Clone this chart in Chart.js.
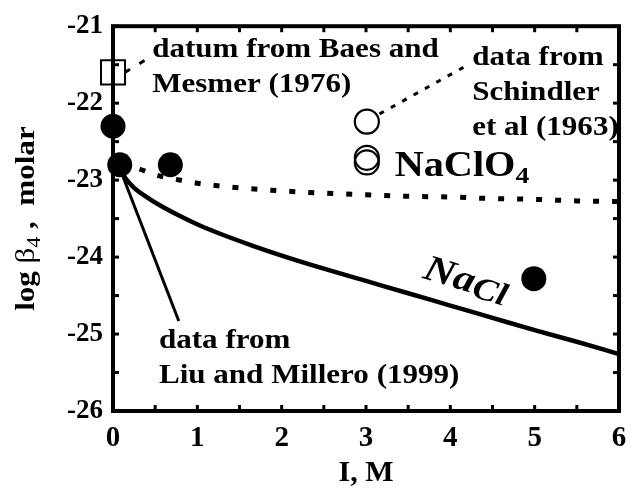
<!DOCTYPE html>
<html>
<head>
<meta charset="utf-8">
<script src="https://cdn.jsdelivr.net/npm/chart.js@4.4.0/dist/chart.umd.min.js"></script>
<style>
html, body { margin: 0; padding: 0; background: #fff; }
#wrap { width: 638px; height: 488px; }
</style>
</head>
<body>
<div id="wrap"><canvas id="chart"></canvas></div>
<script>
// values (I in M, log beta4 molar)
const liuI = [0, 0.08, 0.68, 4.99]
const liuLog = [-22.30, -22.80, -22.80, -24.28]

const schindlerI = [3.01, 3.01, 3.01]
const schindlerLog = [-22.24, -22.71, -22.77]

const baesI = [0]
const baesLog = [-21.60]

// fitted curves
const naclI = [0.1, 0.15, 0.25, 0.4, 0.56, 0.8, 1.03, 1.3, 1.65, 2.0, 2.5, 3, 3.5, 4, 4.5, 5, 5.5, 6]
const naclLog = [-22.88, -22.98, -23.10, -23.22, -23.33, -23.47, -23.59, -23.71, -23.85, -23.98, -24.15, -24.31, -24.47, -24.63, -24.79, -24.95, -25.10, -25.26]

const naclo4I = [0.1, 0.3, 0.5, 0.75, 1, 1.5, 2, 2.5, 3, 3.5, 4, 4.5, 5, 5.5, 6]
const naclo4Log = [-22.78, -22.85, -22.93, -22.99, -23.04, -23.10, -23.14, -23.17, -23.19, -23.21, -23.22, -23.24, -23.25, -23.27, -23.28]

// pointer lines from the labels to the data
const liuPointerI = [0.12, 0.78]
const liuPointerLog = [-22.96, -24.83]
const schPointerI = [3.16, 4.18]
const schPointerLog = [-22.14, -21.52]
const baesPointerI = [0.14, 0.43]
const baesPointerLog = [-21.60, -21.41]

const xTicks = [0, 1, 2, 3, 4, 5, 6]
const yTicks = [-26, -25, -24, -23, -22, -21]

const serif = '"Liberation Serif", "Times New Roman", serif'
const stretch = 1.15

function pts(xs, ys) {
    return xs.map((x, i) => ({ x: x, y: ys[i] }))
}

// texte etire horizontalement comme dans la figure
function drawText(ctx, parts, x, y, angle) {
    ctx.save()
    ctx.translate(x, y)
    ctx.rotate(angle || 0)
    ctx.scale(stretch, 1)
    ctx.fillStyle = '#000'
    ctx.textBaseline = 'alphabetic'
    ctx.textAlign = 'left'
    let cx = 0
    parts.forEach((p) => {
        ctx.font = p.font
        ctx.fillText(p.text, cx, p.dy || 0)
        cx += ctx.measureText(p.text).width
    })
    ctx.restore()
}

function partsWidth(ctx, parts) {
    let w = 0
    parts.forEach((p) => {
        ctx.font = p.font
        w += ctx.measureText(p.text).width
    })
    return w * stretch
}

const bold27 = 'bold 27px ' + serif

// labels placed in data coordinates
const notes = [
    { x: 0.464, y: -21.40, parts: [{ text: 'datum from Baes and', font: bold27 }] },
    { x: 0.464, y: -21.853, parts: [{ text: 'Mesmer (1976)', font: bold27 }] },
    { x: 4.259, y: -21.504, parts: [{ text: 'data from', font: bold27 }] },
    { x: 4.259, y: -21.956, parts: [{ text: 'Schindler', font: bold27 }] },
    { x: 4.259, y: -22.408, parts: [{ text: 'et al (1963)', font: bold27 }] },
    { x: 0.545, y: -25.186, parts: [{ text: 'data from', font: bold27 }] },
    { x: 0.545, y: -25.638, parts: [{ text: 'Liu and Millero (1999)', font: bold27 }] },
    { x: 3.34, y: -22.951, parts: [
        { text: 'NaClO', font: 'bold 35px ' + serif },
        { text: '4', font: 'bold 24px ' + serif, dy: 7 }
    ] },
    { x: 3.66, y: -24.27, angle: 17 * Math.PI / 180, parts: [
        { text: 'Na', font: 'italic bold 37px ' + serif },
        { text: 'Cl', font: 'italic bold 32px ' + serif, dy: 3 }
    ] }
]

const framePlugin = {
    id: 'frame',
    beforeDatasetsDraw(chart) {
        const ctx = chart.ctx
        const a = chart.chartArea
        const xs = chart.scales.x
        const ys = chart.scales.y
        ctx.save()
        ctx.strokeStyle = '#000'
        ctx.lineWidth = 4
        ctx.strokeRect(a.left, a.top, a.right - a.left, a.bottom - a.top)
        ctx.fillStyle = '#000'
        // petites graduations vers l'interieur, tous les 0.5
        for (let v = xs.min; v <= xs.max + 1e-9; v += 0.5) {
            const px = xs.getPixelForValue(v)
            ctx.fillRect(px - 1.5, a.bottom - 6, 3, 6)
            ctx.fillRect(px - 1.5, a.top, 3, 6)
        }
        for (let v = ys.min; v <= ys.max + 1e-9; v += 0.5) {
            const py = ys.getPixelForValue(v)
            ctx.fillRect(a.left, py - 1.5, 6, 3)
            ctx.fillRect(a.right - 6, py - 1.5, 6, 3)
        }
        ctx.restore()
    },
    afterDatasetsDraw(chart) {
        const ctx = chart.ctx
        const xs = chart.scales.x
        const ys = chart.scales.y
        notes.forEach((n) => {
            drawText(ctx, n.parts, xs.getPixelForValue(n.x), ys.getPixelForValue(n.y), n.angle)
        })
        // titre de l'axe y
        const title = [
            { text: 'log ', font: bold27 },
            { text: '\u03b2', font: '27px ' + serif },
            { text: '4', font: '19px ' + serif, dy: 6 },
            { text: ' ,  ', font: bold27 },
            { text: 'molar', font: bold27 }
        ]
        const w = partsWidth(ctx, title)
        const cy = (chart.chartArea.top + chart.chartArea.bottom) / 2
        drawText(ctx, title, 34, cy + w / 2, -Math.PI / 2)
    }
}

const lineStyle = { showLine: true, pointRadius: 0, borderColor: '#000', fill: false, clip: false }

new Chart(document.getElementById('chart'), {
    type: 'scatter',
    data: {
        datasets: [
            { label: 'Liu and Millero', data: pts(liuI, liuLog), pointRadius: 12.5, pointBackgroundColor: '#000', pointBorderWidth: 0, clip: false },
            { label: 'Schindler', data: pts(schindlerI, schindlerLog), pointRadius: 12, pointBackgroundColor: 'rgba(0,0,0,0)', pointBorderColor: '#000', pointBorderWidth: 2.2, clip: false },
            { label: 'Baes and Mesmer', data: pts(baesI, baesLog), pointStyle: 'rect', pointRadius: 17, pointBackgroundColor: 'rgba(0,0,0,0)', pointBorderColor: '#000', pointBorderWidth: 2, clip: false },
            { label: 'NaCl', data: pts(naclI, naclLog), borderWidth: 4.5, cubicInterpolationMode: 'monotone', ...lineStyle },
            { label: 'NaClO4', data: pts(naclo4I, naclo4Log), borderWidth: 5, borderDash: [6, 13], cubicInterpolationMode: 'monotone', ...lineStyle },
            { label: 'p1', data: pts(liuPointerI, liuPointerLog), borderWidth: 3, ...lineStyle },
            { label: 'p2', data: pts(schPointerI, schPointerLog), borderWidth: 3, borderDash: [5, 8], ...lineStyle },
            { label: 'p3', data: pts(baesPointerI, baesPointerLog), borderWidth: 3, borderDash: [6, 11], ...lineStyle }
        ]
    },
    options: {
        responsive: true,
        maintainAspectRatio: false,
        animation: false,
        devicePixelRatio: 1,
        layout: { padding: { top: 24, right: 8, left: 0, bottom: 0 } },
        plugins: { legend: { display: false }, tooltip: { enabled: false } },
        scales: {
            x: {
                type: 'linear',
                min: 0,
                max: 6,
                afterBuildTicks: (scale) => { scale.ticks = xTicks.map((v) => ({ value: v })) },
                afterFit: (scale) => { scale.height = 77 },
                grid: { display: false, drawTicks: false },
                border: { display: false },
                ticks: { color: '#000', padding: 10, maxRotation: 0, font: { family: serif, size: 29, weight: 'bold' } },
                title: { display: true, text: 'I, M', color: '#000', padding: { top: 0, bottom: -3 }, font: { family: serif, size: 30, weight: 'bold' } }
            },
            y: {
                type: 'linear',
                min: -26,
                max: -21,
                afterBuildTicks: (scale) => { scale.ticks = yTicks.map((v) => ({ value: v })) },
                afterFit: (scale) => { scale.width = 113 },
                grid: { display: false, drawTicks: false },
                border: { display: false },
                ticks: { color: '#000', padding: 10, font: { family: serif, size: 27, weight: 'bold' } }
            }
        }
    },
    plugins: [framePlugin]
})
</script>
</body>
</html>
